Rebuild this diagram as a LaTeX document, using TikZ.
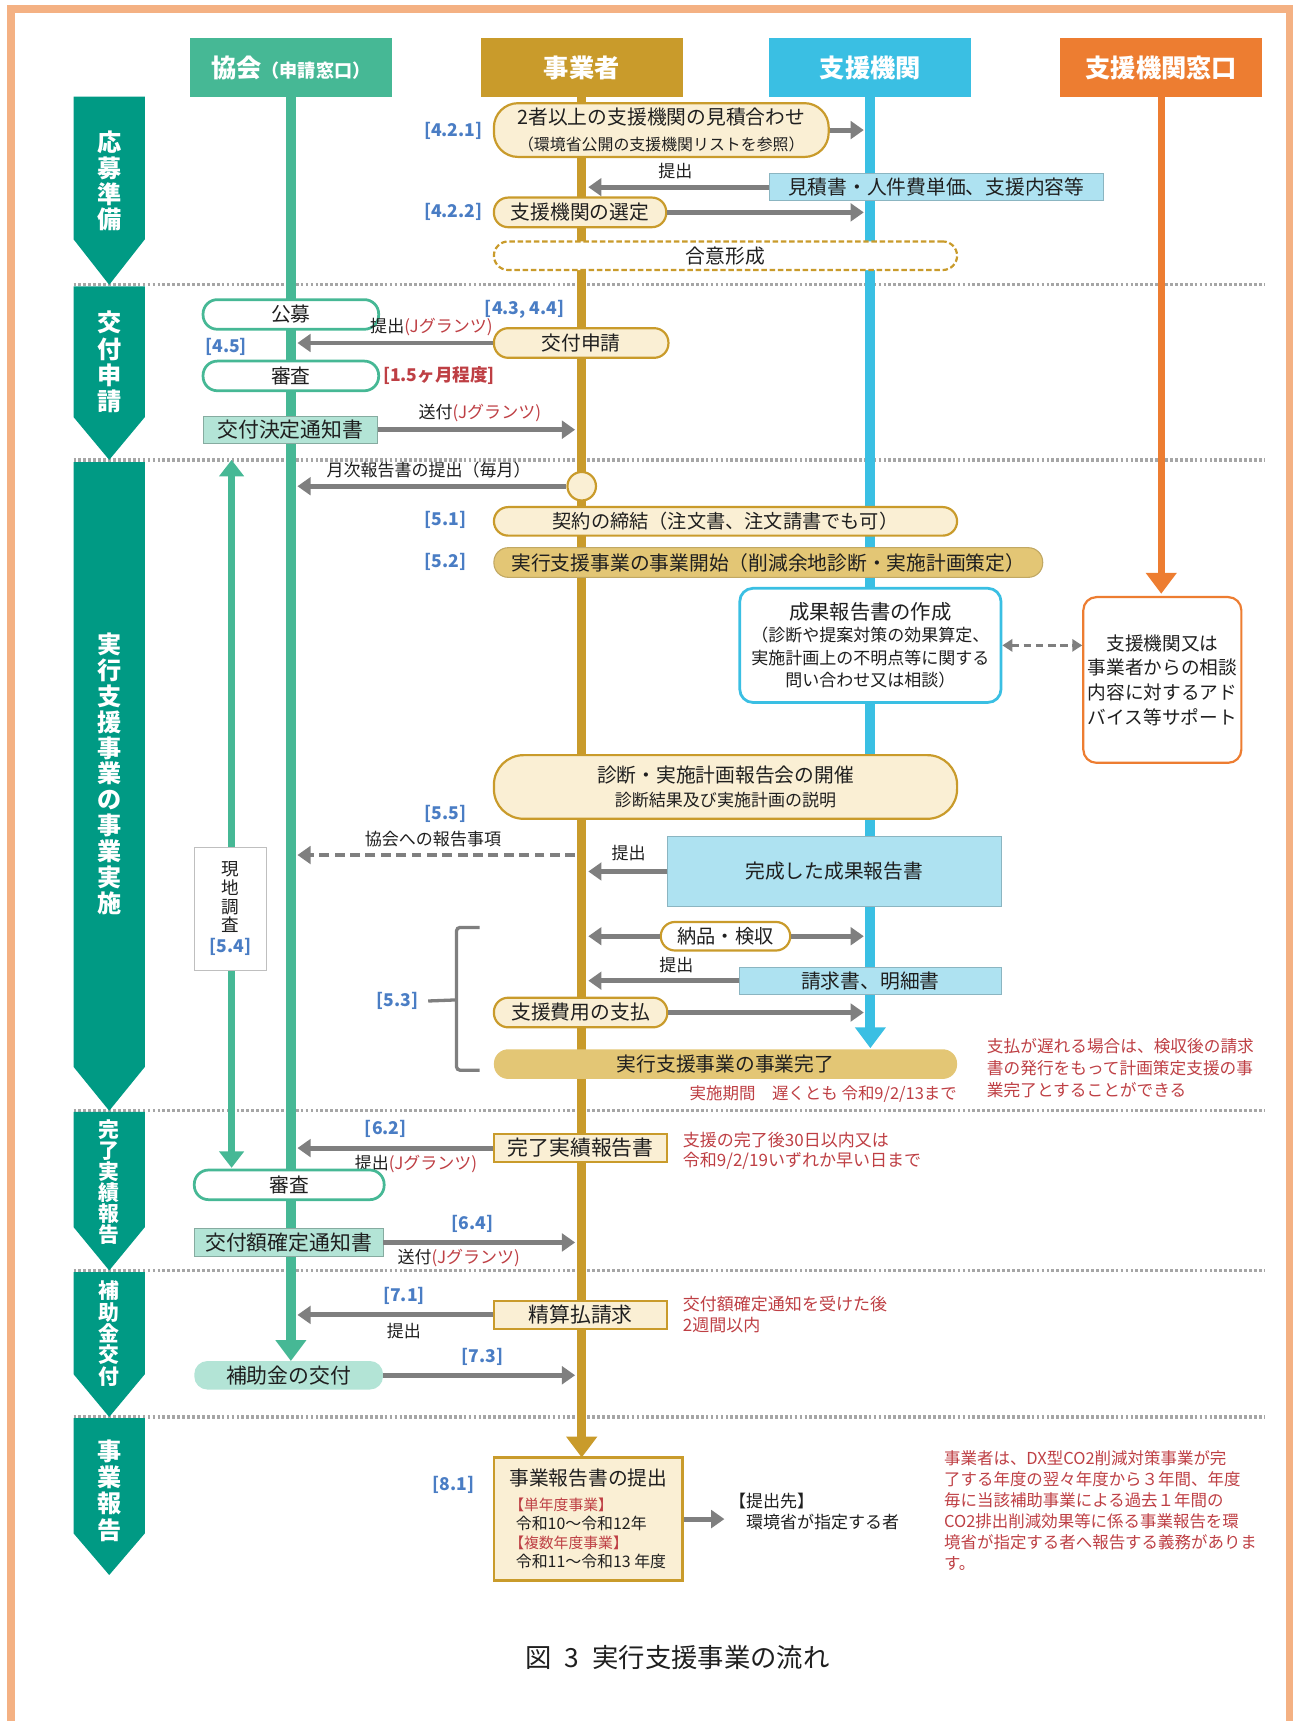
\documentclass[tikz,border=0pt]{standalone}
\usepackage{fontspec}
\setmainfont{Noto Sans CJK JP}
\usetikzlibrary{arrows.meta,positioning}

% colours
\definecolor{framepeach}{HTML}{F4B183}
\definecolor{kyokaigreen}{HTML}{46B895}
\definecolor{jigyogold}{HTML}{C99B2B}
\definecolor{shienblue}{HTML}{3ABFE3}
\definecolor{madoorange}{HTML}{ED7D31}
\definecolor{phasegreen}{HTML}{009A84}
\definecolor{cream}{HTML}{FAEFD4}
\definecolor{goldfill}{HTML}{E3C675}
\definecolor{skyfill}{HTML}{AEE2F1}
\definecolor{mintfill}{HTML}{B3E4D6}
\definecolor{arrowgray}{HTML}{7F7F7F}
\definecolor{sepgray}{HTML}{A6A6A6}
\definecolor{refblue}{HTML}{4A7DC4}
\definecolor{notered}{HTML}{BE3F44}
\definecolor{ink}{HTML}{1F1F1F}

\newcommand{\setfs}[2]{\fontsize{#1}{#2}\selectfont}

\tikzset{
  lanehead/.style={fill=#1, text=white, font=\bfseries\setfs{23}{26},
    minimum width=184pt, minimum height=53pt, inner sep=0pt},
  lifeline/.style={draw=#1, line width=9pt, -{Triangle[length=19pt,width=27pt]}},
  phaselabel/.style={text=white, align=center, inner sep=0pt},
  pill/.style={draw=jigyogold, fill=cream, line width=2pt, rounded corners=13pt,
    minimum height=27pt, inner sep=0pt, text=ink, font=\setfs{18}{21}},
  goldpill/.style={pill, fill=goldfill, draw=goldfill!85!black, line width=1pt},
  kyokaipill/.style={pill, draw=kyokaigreen, fill=white, line width=2.5pt},
  mintbox/.style={fill=mintfill, draw=mintfill!75!black, line width=0.8pt,
    minimum height=26pt, inner sep=0pt, text=ink, font=\setfs{19}{22}},
  skybox/.style={fill=skyfill, draw=skyfill!80!black, line width=0.8pt,
    minimum height=25pt, inner sep=0pt, text=ink, font=\setfs{18}{21}},
  creambox/.style={fill=cream, draw=jigyogold, line width=2pt,
    minimum height=26pt, inner sep=0pt, text=ink, font=\setfs{19}{22}},
  secref/.style={text=refblue, font=\bfseries\setfs{16}{18}, inner sep=0pt},
  arrowlabel/.style={text=ink, font=\setfs{15.5}{18}, inner sep=0pt},
  notetext/.style={text=notered, font=\setfs{15.2}{20}, align=left, inner sep=0pt},
  flow/.style={draw=arrowgray, line width=4.5pt, -{Triangle[length=12pt,width=16pt]}},
  separator/.style={draw=sepgray, line width=3pt, dash pattern=on 2.5pt off 2pt},
}

\begin{document}
\begin{tikzpicture}[x=1pt,y=-1pt]
\useasboundingbox (0,0) rectangle (1178,1568);
% frame and phase separators
\draw[framepeach, line width=7pt] (9.75,1580) -- (9.75,8) -- (1175,8) -- (1175,1580);
\foreach \yy in {259.5,419,1012,1157.5,1291}
  \draw[separator] (67,\yy) -- (1152,\yy);

% phase arrows
\foreach \ytop/\yshoulder/\ytip in {88/218/259.5, 261/380/419, 421/972/1012,
    1013/1118/1157.5, 1159/1252/1291, 1292/1397/1435}
  \fill[phasegreen] (67,\ytop) -- (132,\ytop) -- (132,\yshoulder)
    -- (99.5,\ytip) -- (67,\yshoulder) -- cycle;
\node[phaselabel, font=\bfseries\setfs{22}{23.5}] (phaseA) at (99.5,165) {応\\募\\準\\備};
\node[phaselabel, font=\bfseries\setfs{22}{24}] (phaseB) at (99.5,330) {交\\付\\申\\請};
\node[phaselabel, font=\bfseries\setfs{22}{23.6}] (phaseC) at (99.5,705) {実\\行\\支\\援\\事\\業\\の\\事\\業\\実\\施};
\node[phaselabel, font=\bfseries\setfs{19}{19}] (phaseD) at (99.5,1077) {完\\了\\実\\績\\報\\告};
\node[phaselabel, font=\bfseries\setfs{19}{19.5}] (phaseE) at (99.5,1215) {補\\助\\金\\交\\付};
\node[phaselabel, font=\bfseries\setfs{22}{24}] (phaseF) at (99.5,1358) {事\\業\\報\\告};

% lane heads
\node[lanehead=kyokaigreen] (kyokaiH) at (265,61.5) {協会{\setfs{16.5}{20}（申請窓口）}};
\node[lanehead=jigyogold] (jigyoH) at (530,61.5) {事業者};
\node[lanehead=shienblue] (shienH) at (793,61.5) {支援機関};
\node[lanehead=madoorange] (madoH) at (1058,61.5) {支援機関窓口};

% lifelines
\coordinate (kyokaiEnd) at (265,1240);
\coordinate (jigyoEnd) at (530,1328);
\coordinate (shienEnd) at (793,955);
\coordinate (madoEnd) at (1058,541);
\coordinate (surveyTop) at (211,419);
\coordinate (surveyBot) at (211,1064);
\draw[lifeline=kyokaigreen] (kyokaiH.south) -- (kyokaiEnd);
\draw[lifeline=jigyogold, line width=8.5pt] (jigyoH.south) -- (jigyoEnd);
\draw[lifeline=shienblue] (shienH.south) -- (shienEnd);
\draw[lifeline=madoorange, line width=6.5pt] (madoH.south) -- (madoEnd);
\draw[kyokaigreen, line width=6.5pt,
  {Triangle[length=15pt,width=22pt]}-{Triangle[length=15pt,width=22pt]}] (surveyTop) -- (surveyBot);

% 応募準備
\node[pill, minimum width=305pt, minimum height=49pt, rounded corners=22pt, align=center,
  font=\setfs{18}{23}] (estimate) at (602.5,118.5)
  {2者以上の支援機関の見積合わせ\\{\setfs{14.5}{17}（環境省公開の支援機関リストを参照）}};
\node[secref] (r421) at (413,119) {[4.2.1]};
\node[skybox, minimum width=304pt] (quote) at (853,170.5) {見積書・人件費単価、支援内容等};
\node[pill, minimum width=157pt] (select) at (528.5,193.5) {支援機関の選定};
\node[secref] (r422) at (413,193) {[4.2.2]};
\node[pill, dash pattern=on 5pt off 2.5pt, fill=white, minimum width=422pt, minimum height=26pt]
  (agree) at (661,233) {合意形成};
\draw[flow, shorten >=6pt] (estimate.east) -- (estimate.east -| shienH);
\draw[flow, shorten >=6pt] (quote.west) -- node[arrowlabel, above=5pt] {提出} (quote.west -| jigyoH);
\draw[flow, shorten >=6pt] (select.east) -- (select.east -| shienH);

% 交付申請
\node[kyokaipill, minimum width=160pt] (koubo) at (265,286.5) {公募};
\node[pill, minimum width=159pt] (apply) at (529.5,312.5) {交付申請};
\node[secref] (r434) at (478,282) {[4.3, 4.4]};
\node[secref] (r45) at (206,316) {[4.5]};
\node[kyokaipill, minimum width=160pt] (review) at (265,342.5) {審査};
\node[secref, text=notered] (period) at (400,342) {[1.5ヶ月程度]};
\node[mintbox, minimum width=159pt, minimum height=25pt] (decision) at (264.5,391.5) {交付決定通知書};
\draw[flow, shorten >=6pt] (apply.west) -- node[arrowlabel, pos=0, anchor=south east, yshift=4pt, xshift=2pt]
  {提出\textcolor{notered}{(Jグランツ)}} (apply.west -| kyokaiH);
\draw[flow, shorten >=6pt] (decision.east) -- node[arrowlabel, above=5pt]
  {送付\textcolor{notered}{(Jグランツ)}} (decision.east -| jigyoH);

% 実行支援事業の事業実施
\node[circle, draw=jigyogold, fill=cream, line width=2pt, minimum size=26pt, inner sep=0pt]
  (monthly) at (530,443) {};
\draw[flow, shorten >=6pt] (monthly.west) -- node[arrowlabel, above=5pt]
  {月次報告書の提出（毎月）} (monthly.west -| kyokaiH);
\node[secref] (r51) at (406,474) {[5.1]};
\node[pill, minimum width=422pt, minimum height=26pt, font=\setfs{17.5}{20}] (contract)
  at (661,475) {契約の締結（注文書、注文請書でも可）};
\node[secref] (r52) at (406,512) {[5.2]};
\node[goldpill, minimum width=500pt] (kickoff) at (700,512.5)
  {実行支援事業の事業開始（削減余地診断・実施計画策定）};
\node[draw=shienblue, fill=white, line width=2.5pt, rounded corners=12pt, minimum width=238pt,
  minimum height=104pt, align=center, text=ink, font=\setfs{15.5}{20.5}, inner sep=0pt]
  (draft) at (793,588) {{\setfs{18.5}{20.5}成果報告書の作成}\\（診断や提案対策の効果算定、\\
  実施計画上の不明点等に関する\\問い合わせ又は相談）};
\node[draw=madoorange, fill=white, line width=2pt, rounded corners=12pt, minimum width=144pt,
  minimum height=151pt, align=center, text=ink, font=\setfs{17}{22.5}, inner sep=0pt]
  (advice) at (1059,619.5) {支援機関又は\\事業者からの相談\\内容に対するアド\\バイス等サポート};
\draw[arrowgray, line width=3pt, dash pattern=on 7pt off 4pt,
  {Triangle[length=9pt,width=11pt]}-{Triangle[length=9pt,width=11pt]}]
  (draft.east) -- (draft.east -| advice.west);
\node[pill, minimum width=422pt, minimum height=58pt, rounded corners=27pt, align=center,
  font=\setfs{18}{21}] (meeting) at (661,717)
  {診断・実施計画報告会の開催\\{\setfs{15.5}{21}診断結果及び実施計画の説明}};
\node[secref] (r55) at (406,742) {[5.5]};
\coordinate (rep55) at (524,779);
\draw[arrowgray, line width=4pt, dash pattern=on 9pt off 5pt, -{Triangle[length=12pt,width=16pt]},
  shorten >=6pt] (rep55) -- node[arrowlabel, above=5pt] {協会への報告事項} (rep55 -| kyokaiH);
\node[skybox, minimum width=304pt, minimum height=64pt] (final) at (760,794) {完成した成果報告書};
\draw[flow, shorten >=6pt] (final.west) -- node[arrowlabel, above=7pt, pos=0.45] {提出}
  (final.west -| jigyoH);
\node[draw=black!25, fill=white, line width=0.8pt, minimum width=66pt, minimum height=112pt,
  inner sep=0pt, align=center, text=ink, font=\setfs{16}{17}] (survey) at (210,828)
  {現\\地\\調\\査\\[2pt]{\color{refblue}\bfseries [5.4]}};
\node[secref] (r53) at (362,912) {[5.3]};
\draw[arrowgray, line width=3pt, rounded corners=3pt] (437,845) -- (416,845) -- (416,975) -- (437,975);
\draw[arrowgray, line width=3pt] ([xshift=9pt]r53.east) -- (416,911);
\node[pill, fill=white, minimum width=118pt, minimum height=26pt, font=\setfs{17.5}{20}]
  (inspect) at (661,853) {納品・検収};
\draw[flow, shorten >=6pt] (inspect.west) -- (inspect.west -| jigyoH);
\draw[flow, shorten >=6pt] (inspect.east) -- (inspect.east -| shienH);
\node[skybox, minimum width=238pt] (invoice) at (793,893.5) {請求書、明細書};
\draw[flow, shorten >=6pt] (invoice.west) -- node[arrowlabel, above=5pt, pos=0.4] {提出}
  (invoice.west -| jigyoH);
\node[pill, minimum width=158pt] (payment) at (529,922.5) {支援費用の支払};
\draw[flow, shorten >=6pt] (payment.east) -- (payment.east -| shienH);
\node[goldpill, draw=none, minimum width=422pt] (finish) at (661,969.5) {実行支援事業の事業完了};
\node[notetext, anchor=east, font=\setfs{15}{18}] (deadline) at (872,997)
  {実施期間　遅くとも 令和9/2/13まで};
\node[notetext, anchor=north west] (latepay) at (899,946)
  {支払が遅れる場合は、検収後の請求\\書の発行をもって計画策定支援の事\\業完了とすることができる};

% 完了実績報告
\node[creambox, minimum width=158pt] (result) at (529,1046) {完了実績報告書};
\draw[flow, shorten >=6pt] (result.west) -- node[secref, above=7pt, pos=0.53] {[6.2]}
  node[arrowlabel, below=4pt, pos=0.38] {提出\textcolor{notered}{(Jグランツ)}} (result.west -| kyokaiH);
\node[notetext, anchor=north west, font=\setfs{15.5}{19}] (resultnote) at (622,1031)
  {支援の完了後30日以内又は\\令和9/2/19いずれか早い日まで};
\node[kyokaipill, minimum width=173pt] (review2) at (263.5,1079.5) {審査};
\node[mintbox, minimum width=172pt] (fixed) at (263,1132) {交付額確定通知書};
\draw[flow, shorten >=6pt] (fixed.east) -- node[secref, above=7pt, pos=0.45] {[6.4]}
  node[arrowlabel, below=4pt, pos=0.38] {送付\textcolor{notered}{(Jグランツ)}} (fixed.east -| jigyoH);

% 補助金交付
\node[creambox, minimum width=158pt] (claim) at (529,1198) {精算払請求};
\draw[flow, shorten >=6pt] (claim.west) -- node[secref, above=7pt, pos=0.44] {[7.1]}
  node[arrowlabel, below=5pt, pos=0.44] {提出} (claim.west -| kyokaiH);
\node[notetext, anchor=north west, font=\setfs{15.5}{19}] (claimnote) at (622,1181)
  {交付額確定通知を受けた後\\2週間以内};
\node[mintbox, draw=none, rounded corners=12pt, minimum width=172pt] (grant) at (263,1253) {補助金の交付};
\draw[flow, shorten >=6pt] (grant.east) -- node[secref, above=7pt] {[7.3]} (grant.east -| jigyoH);

% 事業報告
\node[creambox, line width=2.5pt, minimum width=172pt, minimum height=112pt, align=left,
  font=\setfs{14.5}{17.5}] (annual) at (536,1384)
  {{\setfs{18}{18}事業報告書の提出}\\[5pt]{\color{notered}\setfs{13.5}{17.5}【単年度事業】}\\
  \hspace{6pt}令和10～令和12年\\{\color{notered}\setfs{13.5}{17.5}【複数年度事業】}\\\hspace{6pt}令和11～令和13 年度};
\node[secref] (r81) at (413,1353) {[8.1]};
\node[anchor=west, align=left, text=ink, font=\setfs{15.5}{19}, inner sep=0pt] (dest)
  at (664,1377) {【提出先】\\　環境省が指定する者};
\draw[flow, shorten >=4pt] (annual.east) -- (annual.east -| dest.west);
\node[notetext, anchor=north west, font=\setfs{15}{19.3}] (duty) at (860,1321)
  {事業者は、DX型CO2削減対策事業が完\\了する年度の翌々年度から３年間、年度\\
  毎に当該補助事業による過去１年間の\\CO2排出削減効果等に係る事業報告を環\\
  境省が指定する者へ報告する義務がありま\\す。};

\node[text=ink, font=\setfs{24}{28}, inner sep=0pt] (caption) at (617,1510)
  {図\enspace 3\enspace 実行支援事業の流れ};
\end{tikzpicture}
\end{document}
